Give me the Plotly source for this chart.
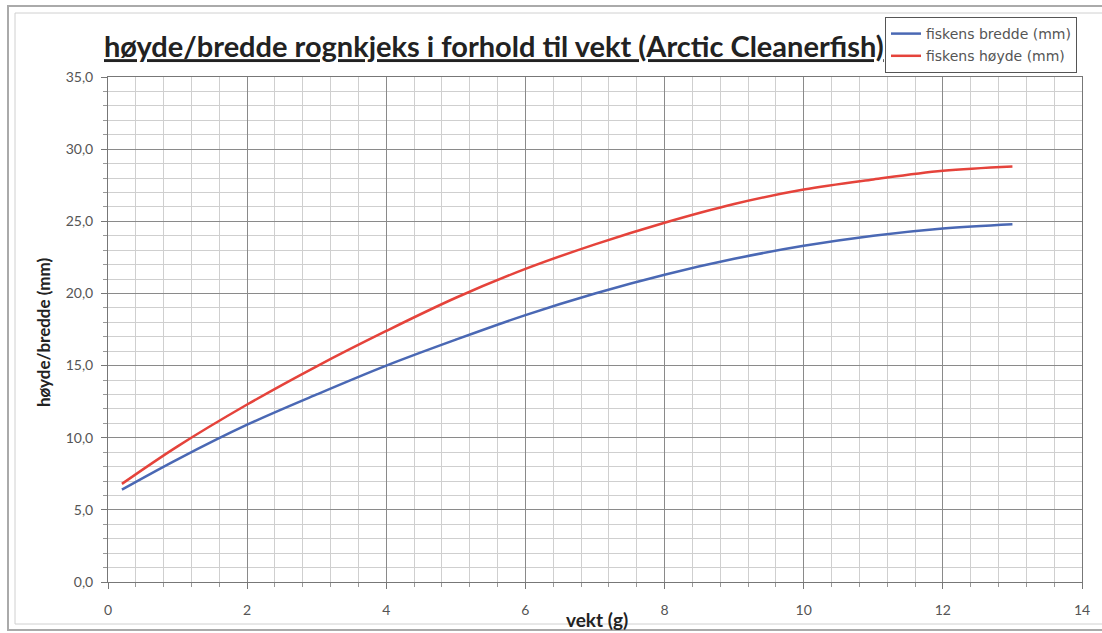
import plotly.graph_objects as go

vekt = [0.2, 1, 2, 3, 4, 5, 6, 7, 8, 9, 10, 11, 12, 13]
bredde = [6.4, 8.5, 10.9, 13.0, 15.0, 16.8, 18.5, 20.0, 21.3, 22.4, 23.3, 24.0, 24.5, 24.8]
hoyde = [6.8, 9.4, 12.3, 14.95, 17.4, 19.7, 21.7, 23.4, 24.9, 26.2, 27.2, 27.9, 28.5, 28.8]
x_ticks = [0, 2, 4, 6, 8, 10, 12, 14]
y_ticks = [0, 5, 10, 15, 20, 25, 30, 35]

fig = go.Figure()
fig.add_trace(go.Scatter(x=vekt, y=bredde, mode="lines", name="fiskens bredde (mm)",
                         legendgroup="a",
                         line=dict(color="#4A68B4", width=2.5, shape="spline")))
fig.add_trace(go.Scatter(x=vekt, y=hoyde, mode="lines", name="fiskens høyde (mm)",
                         legendgroup="b",
                         line=dict(color="#E5433B", width=2.5, shape="spline")))

W, H = 1102, 633
L, R, T, B = 108, 20, 77, 51
PW, PH = W - L - R, H - T - B


def px(xp):
    return (xp - L) / PW


def py(yp):
    return (H - B - yp) / PH


fig.update_layout(
    width=W, height=H,
    margin=dict(l=L, r=R, t=T, b=B),
    paper_bgcolor="white", plot_bgcolor="white",
    separators=", ",
    font=dict(family="Lato, Liberation Sans, sans-serif", color="#444"),
    title=dict(text="<u>høyde/bredde rognkjeks i forhold til vekt (Arctic Cleanerfish)</u>",
               x=104 / W, xanchor="left", xref="container",
               y=1 - 47 / H, yanchor="middle",
               font=dict(family="Lato, sans-serif", size=29, color="#222", weight="bold")),
    legend=dict(x=px(885), y=py(17), xanchor="left", yanchor="top",
                bgcolor="white", bordercolor="#555", borderwidth=1,
                font=dict(family="DejaVu Sans, sans-serif", size=14, color="#555"),
                tracegroupgap=1, itemwidth=30),
    showlegend=True,
)
fig.update_xaxes(range=[0, 14], tickvals=x_ticks, ticktext=[str(v) for v in x_ticks],
                 showgrid=True, gridcolor="#8a8a8a", gridwidth=1,
                 minor=dict(dtick=0.4, showgrid=True, gridcolor="#cfcfcf", gridwidth=1,
                            ticks="outside", ticklen=4, tickcolor="#999"),
                 ticks="outside", ticklen=6, tickcolor="#777", ticklabelstandoff=9,
                 showline=True, linecolor="#777", zeroline=False, mirror=True,
                 tickfont=dict(size=14, color="#555"))
fig.update_yaxes(range=[0, 35], tickvals=y_ticks, tickformat=".1f",
                 showgrid=True, gridcolor="#8a8a8a", gridwidth=1,
                 minor=dict(dtick=1, showgrid=True, gridcolor="#cfcfcf", gridwidth=1,
                            ticks="outside", ticklen=4, tickcolor="#999"),
                 ticks="outside", ticklen=6, tickcolor="#777", ticklabelstandoff=5,
                 showline=True, linecolor="#777", zeroline=False, mirror=True,
                 tickfont=dict(size=14, color="#555"))

fig.add_annotation(text="<b>høyde/bredde (mm)</b>", xref="paper", yref="paper",
                   x=px(43), y=py(332), textangle=-90, showarrow=False,
                   font=dict(size=17, color="#222"), xanchor="center", yanchor="middle")
fig.add_annotation(text="<b>vekt (g)</b>", xref="paper", yref="paper",
                   x=px(597), y=py(619), showarrow=False,
                   font=dict(size=19, color="#222"), xanchor="center", yanchor="middle")

fig.add_shape(type="rect", xref="paper", yref="paper",
              x0=px(8), x1=px(1120), y0=py(630), y1=py(6),
              line=dict(color="#aaa", width=2), fillcolor="rgba(0,0,0,0)", layer="above")
fig.add_shape(type="rect", xref="paper", yref="paper",
              x0=px(15), x1=px(1130), y0=py(624), y1=py(13),
              line=dict(color="#d0d0d0", width=1), fillcolor="rgba(0,0,0,0)", layer="above")

fig.write_html("out.html", config={"displayModeBar": False},
               post_script="document.body.style.margin='0px';document.body.style.overflow='hidden';")
